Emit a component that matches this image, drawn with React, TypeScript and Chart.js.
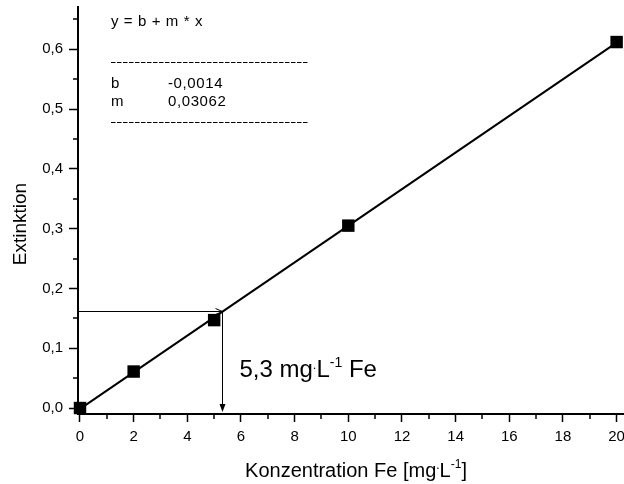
import React, { useEffect, useRef } from "react";
import { Chart, registerables } from "chart.js";

Chart.register(...registerables);

// ---- data ----
const concentrations = [0, 2, 5, 10, 20];
const extinctions = [0.0, 0.061, 0.147, 0.305, 0.612];

// linear fit (y = b + m * x) end points
const fitX = [0, 20];
const fitY = [-0.0014, 0.611];

// read-off of the sample
const readX = 5.3;
const readY = 0.163;

// axis ticks
const xTickValues = [0, 1, 2, 3, 4, 5, 6, 7, 8, 9, 10, 11, 12, 13, 14, 15, 16, 17, 18, 19, 20];
const xLabelValues = [0, 2, 4, 6, 8, 10, 12, 14, 16, 18, 20];
const yTickValues = [0, 0.05, 0.1, 0.15, 0.2, 0.25, 0.3, 0.35, 0.4, 0.45, 0.5, 0.55, 0.6, 0.65];
const yLabelValues = [0, 0.1, 0.2, 0.3, 0.4, 0.5, 0.6];

// texts
const fitEquation = "y = b + m * x";
const fitParamNames = ["b", "m"];
const fitParamValues = ["-0,0014", "0,03062"];
const yTitle = "Extinktion";
const xTitleMain = "Konzentration Fe [mg";
const resultText = "5,3 mg";

const FONT = "'Liberation Sans', Arial, Helvetica, sans-serif";

const isLabelY = (v: number) => yLabelValues.some((l) => Math.abs(l - v) < 1e-9);
const isLabelX = (v: number) => xLabelValues.some((l) => Math.abs(l - v) < 1e-9);

type Run = { t: string; size: number; dy: number };

function runsWidth(ctx: CanvasRenderingContext2D, runs: Run[]) {
  let w = 0;
  for (const r of runs) {
    ctx.font = `${r.size}px ${FONT}`;
    w += ctx.measureText(r.t).width;
  }
  return w;
}

function drawRuns(ctx: CanvasRenderingContext2D, x: number, y: number, runs: Run[]) {
  let cx = x;
  for (const r of runs) {
    ctx.font = `${r.size}px ${FONT}`;
    ctx.fillText(r.t, cx, y + r.dy);
    cx += ctx.measureText(r.t).width;
  }
}

const overlayPlugin = {
  id: "overlay",
  afterDatasetsDraw(chart: any) {
    const { ctx, chartArea } = chart;
    const xs = chart.scales.x;
    const ys = chart.scales.y;
    ctx.save();
    ctx.fillStyle = "#000";
    ctx.strokeStyle = "#000";

    // minor ticks
    ctx.lineWidth = 1.5;
    ctx.beginPath();
    for (const v of xTickValues) {
      if (isLabelX(v)) continue;
      const px = Math.round(xs.getPixelForValue(v));
      ctx.moveTo(px, chartArea.bottom);
      ctx.lineTo(px, chartArea.bottom + 5);
    }
    for (const v of yTickValues) {
      if (isLabelY(v)) continue;
      const py = Math.round(ys.getPixelForValue(v));
      ctx.moveTo(chartArea.left - 5, py);
      ctx.lineTo(chartArea.left, py);
    }
    ctx.stroke();

    // read-off arrows
    const ax = Math.round(xs.getPixelForValue(readX)) + 0.5;
    const ay = Math.round(ys.getPixelForValue(readY)) + 0.5;
    ctx.lineWidth = 1;
    ctx.beginPath();
    ctx.moveTo(chartArea.left, ay);
    ctx.lineTo(ax, ay);
    ctx.moveTo(ax - 7, ay - 3);
    ctx.lineTo(ax, ay);
    ctx.lineTo(ax - 7, ay + 3);
    const bottomTip = chartArea.bottom - 2;
    ctx.moveTo(ax, ay);
    ctx.lineTo(ax, bottomTip - 6);
    ctx.stroke();
    ctx.beginPath();
    ctx.moveTo(ax, bottomTip);
    ctx.lineTo(ax - 3, bottomTip - 8);
    ctx.lineTo(ax + 3, bottomTip - 8);
    ctx.closePath();
    ctx.fill();

    // fit parameter box
    ctx.textBaseline = "alphabetic";
    ctx.textAlign = "left";
    (ctx as any).letterSpacing = "0.6px";
    ctx.font = `15px ${FONT}`;
    const bx = 111;
    ctx.fillText(fitEquation, bx, 26);
    ctx.setLineDash([4.5, 1.5]);
    ctx.lineWidth = 1;
    ctx.beginPath();
    ctx.moveTo(bx, 62.5);
    ctx.lineTo(308, 62.5);
    ctx.moveTo(bx, 122.5);
    ctx.lineTo(308, 122.5);
    ctx.stroke();
    ctx.setLineDash([]);
    ctx.font = `15px ${FONT}`;
    fitParamNames.forEach((n, i) => {
      ctx.fillText(n, bx, 88 + i * 18);
      ctx.fillText(fitParamValues[i], 168, 88 + i * 18);
    });
    (ctx as any).letterSpacing = "0px";

    // result annotation
    drawRuns(ctx, ax + 17, 377, [
      { t: resultText, size: 24, dy: 0 },
      { t: ".", size: 13, dy: -8 },
      { t: "L", size: 24, dy: 0 },
      { t: "-1", size: 14, dy: -10 },
      { t: " Fe", size: 24, dy: 0 },
    ]);

    // x title
    const xRuns: Run[] = [
      { t: xTitleMain, size: 20, dy: 0 },
      { t: ".", size: 12, dy: -8 },
      { t: "L", size: 20, dy: 0 },
      { t: "-1", size: 12, dy: -9 },
      { t: "]", size: 20, dy: 0 },
    ];
    const xw = runsWidth(ctx, xRuns);
    drawRuns(ctx, 356 - xw / 2, 477, xRuns);

    // y title
    ctx.save();
    ctx.translate(26, 224);
    ctx.rotate(-Math.PI / 2);
    ctx.textAlign = "center";
    ctx.font = `19px ${FONT}`;
    ctx.fillText(yTitle, 0, 0);
    ctx.restore();

    ctx.restore();
  },
};

export default function App() {
  const ref = useRef<HTMLCanvasElement | null>(null);

  useEffect(() => {
    if (!ref.current) return;
    const chart = new Chart(ref.current, {
      type: "scatter",
      data: {
        datasets: [
          {
            label: "Messwerte",
            data: concentrations.map((c, i) => ({ x: c, y: extinctions[i] })),
            pointStyle: "rect",
            pointRadius: 8.8,
            pointHoverRadius: 8.8,
            backgroundColor: "#000",
            borderColor: "#000",
            borderWidth: 0,
            showLine: false,
            clip: false as any,
          },
          {
            label: "Fit",
            data: fitX.map((xv, i) => ({ x: xv, y: fitY[i] })),
            showLine: true,
            borderColor: "#000",
            backgroundColor: "#000",
            borderWidth: 2,
            pointRadius: 0,
            pointHoverRadius: 0,
            fill: false,
            clip: false as any,
          },
        ],
      },
      options: {
        animation: false,
        responsive: false,
        devicePixelRatio: 1,
        layout: { autoPadding: false, padding: { top: 7, left: 0, right: 0, bottom: 0 } },
        plugins: {
          legend: { display: false },
          tooltip: { enabled: false },
        },
        scales: {
          x: {
            type: "linear",
            min: -0.0745,
            max: 20.275,
            afterBuildTicks: (s: any) => {
              s.ticks = xTickValues.map((v) => ({ value: v }));
            },
            afterFit: (s: any) => {
              s.height = 70;
              s.paddingLeft = 0;
              s.paddingRight = 0;
            },
            border: { display: true, color: "#000", width: 2 },
            grid: {
              display: true,
              drawOnChartArea: false,
              drawTicks: true,
              tickLength: 8,
              tickWidth: 1.5,
              tickColor: (c: any) => (c.tick && isLabelX(c.tick.value) ? "#000" : "rgba(0,0,0,0)"),
            },
            ticks: {
              autoSkip: false,
              maxRotation: 0,
              minRotation: 0,
              padding: 6,
              color: "#000",
              font: { family: FONT, size: 15 },
              callback: (v: any) => (isLabelX(Number(v)) ? String(Math.round(Number(v))) : ""),
            },
          },
          y: {
            type: "linear",
            min: -0.01,
            max: 0.6706,
            afterBuildTicks: (s: any) => {
              s.ticks = yTickValues.map((v) => ({ value: v }));
            },
            afterFit: (s: any) => {
              s.width = 78;
              s.paddingTop = 0;
              s.paddingBottom = 0;
            },
            border: { display: true, color: "#000", width: 2 },
            grid: {
              display: true,
              drawOnChartArea: false,
              drawTicks: true,
              tickLength: 9,
              tickWidth: 1.5,
              tickColor: (c: any) => (c.tick && isLabelY(c.tick.value) ? "#000" : "rgba(0,0,0,0)"),
            },
            ticks: {
              autoSkip: false,
              padding: 6,
              color: "#000",
              font: { family: FONT, size: 15 },
              callback: (v: any) => (isLabelY(Number(v)) ? Number(v).toFixed(1).replace(".", ",") : ""),
            },
          },
        },
      },
      plugins: [overlayPlugin],
    } as any);
    return () => chart.destroy();
  }, []);

  return (
    <div style={{ position: "absolute", left: 0, top: 0, width: 624, height: 484, background: "#fff" }}>
      <canvas ref={ref} width={624} height={484} style={{ display: "block", width: 624, height: 484 }} />
    </div>
  );
}
